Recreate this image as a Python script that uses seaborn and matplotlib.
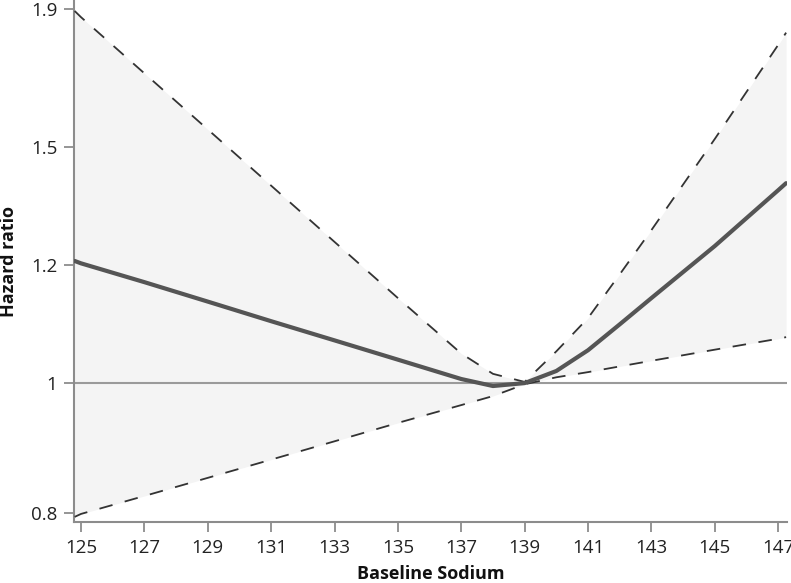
import matplotlib
matplotlib.use("Agg")
import matplotlib.pyplot as plt
import seaborn as sns
import pandas as pd

# baseline sodium grid and hazard ratio curve with 95% CI
sodium = [124.8, 125, 127, 129, 131, 133, 135, 137, 138, 139, 140, 141, 142, 143, 145, 147, 147.25]
hr = [1.233, 1.228, 1.189, 1.150, 1.112, 1.076, 1.041, 1.007, 0.995, 1.000, 1.021, 1.058, 1.106, 1.157, 1.265, 1.392, 1.409]
upper = [1.893, 1.873, 1.701, 1.545, 1.403, 1.274, 1.157, 1.052, 1.016, 1.002, 1.056, 1.118, 1.205, 1.300, 1.520, 1.786, 1.824]
lower = [0.795, 0.799, 0.824, 0.850, 0.877, 0.905, 0.934, 0.963, 0.978, 0.998, 1.010, 1.019, 1.029, 1.039, 1.059, 1.079, 1.082]

xticks = [125, 127, 129, 131, 133, 135, 137, 139, 141, 143, 145, 147]
yticks = [0.8, 1.0, 1.224, 1.5, 1.9]
ytick_labels = ["0.8", "1", "1.2", "1.5", "1.9"]

df = pd.DataFrame({"sodium": sodium, "hr": hr, "upper": upper, "lower": lower})

sns.set_style("ticks")
plt.rcParams["font.family"] = ["Open Sans", "DejaVu Sans"]

fig = plt.figure(figsize=(7.91, 5.83), dpi=100)
ax = fig.add_axes([0.0936, 0.1046, 0.9014, 0.8954])

ax.fill_between(df["sodium"], df["lower"], df["upper"], color="#f4f4f4", linewidth=0, zorder=1)
ax.axhline(1.0, color="#9a9a9a", linewidth=1.5, zorder=2)
sns.lineplot(data=df, x="sodium", y="upper", ax=ax, color="#333333", linewidth=1.3, zorder=3)
ax.lines[-1].set_dashes([7.5, 7])
sns.lineplot(data=df, x="sodium", y="lower", ax=ax, color="#333333", linewidth=1.3, zorder=3)
ax.lines[-1].set_dashes([7.5, 7])
sns.lineplot(data=df, x="sodium", y="hr", ax=ax, color="#555555", linewidth=3.0, zorder=4)

ax.set_yscale("log")
ax.set_xlim(124.78, 147.28)
ax.set_ylim(0.788, 1.929)
ax.set_xticks(xticks)
ax.set_xticklabels([str(t) for t in xticks])
ax.set_yticks(yticks)
ax.set_yticklabels(ytick_labels)
ax.minorticks_off()

for side in ["top", "right"]:
    ax.spines[side].set_visible(False)
for side in ["left", "bottom"]:
    ax.spines[side].set_color("#8c8c8c")
    ax.spines[side].set_linewidth(1.5)
ax.tick_params(axis="both", colors="#8c8c8c", length=7, width=1.3, labelsize=13.5,
               labelcolor="#222222", pad=5)

ax.set_xlabel("Baseline Sodium", fontsize=13, fontweight="bold", color="#111111", labelpad=6)
ax.set_ylabel("Hazard ratio", fontsize=13, fontweight="bold", color="#111111", labelpad=9)

fig.savefig("out.png", dpi=100)
